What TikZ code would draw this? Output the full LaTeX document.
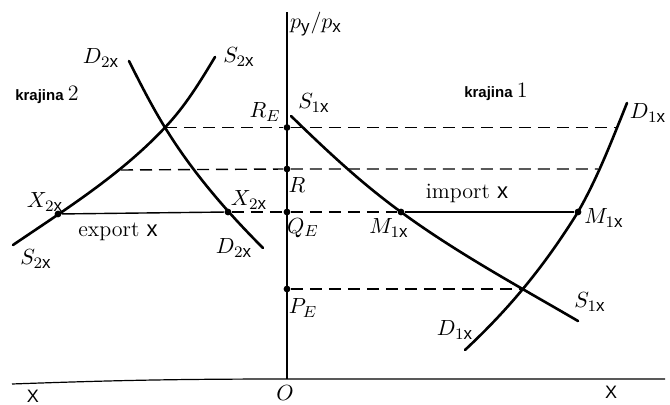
\documentclass[tikz,border=0pt]{standalone}
\usepackage{amsmath}
\usepackage{fontspec}
\setsansfont{Liberation Sans}
\DeclareMathSizes{11}{11}{8.5}{6.5}
\usepackage{tikz}
\usetikzlibrary{positioning}

\begin{document}
\begin{tikzpicture}[x=0.5pt, y=-0.5pt,
    curve/.style={line width=1.3pt, line cap=round},
    axis/.style={line width=0.6pt},
    guide/.style={line width=0.7pt, dash pattern=on 6pt off 3.5pt},
    dot/.style={circle, fill, inner sep=0pt, minimum size=3.4pt},
    lbl/.style={inner sep=1pt, font=\fontsize{11}{13}\selectfont},
    land/.style={inner sep=1pt, font=\sffamily\bfseries\fontsize{7.5}{9}\selectfont},
    axlbl/.style={inner sep=1pt, font=\sffamily\fontsize{9}{11}\selectfont}]
    \useasboundingbox (0,0) rectangle (670,405);
    \coordinate (O) at (287,379);
    \coordinate (top) at (287,12);
    \coordinate (xl) at (12,384);
    \coordinate (xr) at (665,379);
    \node [dot] (RE) at (287,127.5) {};
    \node [dot] (R) at (287,169) {};
    \node [dot] (QE) at (287,212) {};
    \node [dot] (PE) at (287,289) {};
    \node [dot] (M1l) at (401,212) {};
    \node [dot] (M1r) at (578,212) {};
    \node [dot] (X2l) at (58,214) {};
    \node [dot] (X2r) at (228,212) {};
    \coordinate (E2) at (165,127.5);
    \coordinate (E1) at (525,289);
    \coordinate (S2R) at (121,170);
    \coordinate (D1R) at (598,169);
    \coordinate (D1RE) at (617,127.5);
    \coordinate (S2lo) at (13,245);
    \coordinate (S2hi) at (215,57);
    \coordinate (D2hi) at (129,61);
    \coordinate (D2lo) at (263,248);
    \coordinate (S1hi) at (291,116);
    \coordinate (S1lo) at (578,321);
    \coordinate (D1lo) at (465,350);
    \coordinate (D1hi) at (627,103);

    \draw [axis] (xl) to [bend left=1] (O) -- (xr);
    \draw [axis] (O) -- (top);

    \draw [guide] (E2) -- (RE) -- (D1RE);
    \draw [guide] (S2R) -- (R) -- (D1R);
    \draw [guide] (X2r) -- (QE) -- (M1l);
    \draw [guide] (PE) -- (E1);
    \draw [axis, line width=0.7pt] (X2l) -- (X2r);
    \draw [axis, line width=0.7pt] (M1l) -- (M1r);

    \draw [curve] (S2lo) .. controls +(53,-36) and +(-44,47) .. (E2)
        .. controls +(20,-21) and +(-15,25) .. (S2hi);
    \draw [curve] (D2hi) .. controls +(11,22) and +(-13,-21) .. (E2)
        .. controls +(27,44) and +(-37,-37) .. (D2lo);
    \draw [curve] (S1hi) .. controls +(35,34) and +(-40,-29) .. (M1l.center)
        .. controls +(56,41) and +(-60,-35) .. (S1lo);
    \draw [curve] (D1lo) .. controls +(46,-43) and +(-33,53) .. (M1r.center)
        .. controls +(20,-35) and +(-15,37) .. (D1hi);

    \node [lbl] (py) at (316,24) {$p_{\textsf{y}}/p_{\textsf{x}}$};
    \node [lbl] (lO) at (285,393) {$O$};
    \node [axlbl] (Xl) at (33,396) {X};
    \node [axlbl] (Xr) at (611,392) {X};
    \node [lbl] (lRE) at (265,112) {$R_E$};
    \node [lbl] (lR) at (297,185) {$R$};
    \node [lbl] (lQE) at (303,228) {$Q_E$};
    \node [lbl] (lPE) at (303,308) {$P_E$};
    \node [lbl] (lS1hi) at (314,103) {$S_{1\textsf{x}}$};
    \node [lbl] (lD1hi) at (648,113) {$D_{1\textsf{x}}$};
    \node [lbl] (lS1lo) at (590,302) {$S_{1\textsf{x}}$};
    \node [lbl] (lD1lo) at (455,330) {$D_{1\textsf{x}}$};
    \node [lbl] (lM1l) at (389,228) {$M_{1\textsf{x}}$};
    \node [lbl] (lM1r) at (604,218) {$M_{1\textsf{x}}$};
    \node [lbl] (imp) at (467,193) {import \textsf{x}};
    \node [lbl] (lS2hi) at (239,57) {$S_{2\textsf{x}}$};
    \node [lbl] (lD2hi) at (101,58) {$D_{2\textsf{x}}$};
    \node [lbl] (lX2l) at (45,202) {$X_{2\textsf{x}}$};
    \node [lbl] (lX2r) at (249,200) {$X_{2\textsf{x}}$};
    \node [lbl] (exp) at (118,232) {export \textsf{x}};
    \node [lbl] (lS2lo) at (36,259) {$S_{2\textsf{x}}$};
    \node [lbl] (lD2lo) at (234,248) {$D_{2\textsf{x}}$};
    \node [land] (k2) at (47,95) {krajina \textmd{\rmfamily\fontsize{11}{13}\selectfont 2}};
    \node [land] (k1) at (496,92) {krajina \textmd{\rmfamily\fontsize{11}{13}\selectfont 1}};
\end{tikzpicture}
\end{document}
